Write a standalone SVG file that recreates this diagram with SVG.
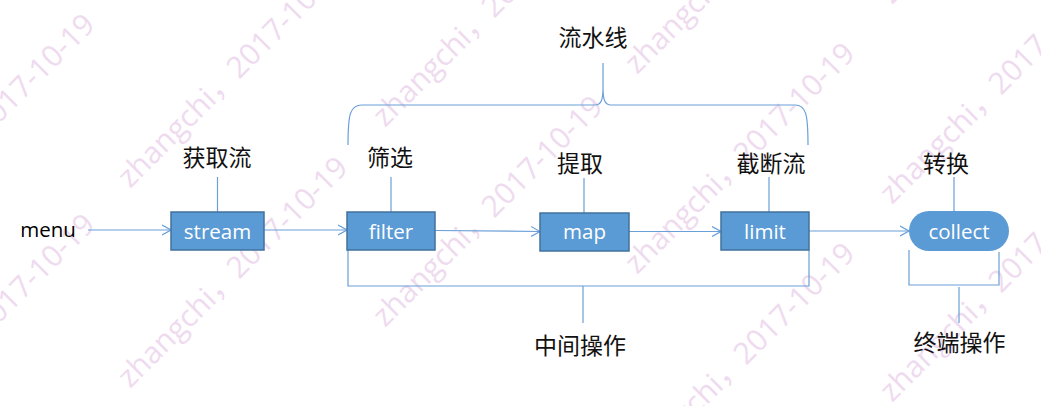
<svg xmlns="http://www.w3.org/2000/svg" width="1041" height="406" viewBox="0 0 1041 406">
<style>
.wm{font-family:"Open Sans","Liberation Sans","Noto Sans CJK SC",sans-serif;font-size:30px;fill:#efdbef}
.box{fill:#5b9bd5;stroke:#41719c;stroke-width:1.5}
.pill{fill:#5b9bd5}
.bt{font-family:"Open Sans","Liberation Sans",sans-serif;font-size:20.5px;fill:#ffffff;text-anchor:middle}
.lb{font-family:"Noto Sans CJK SC",sans-serif;font-size:23px;fill:#111111;text-anchor:middle}
.ln{fill:none;stroke:#6a9fd8;stroke-width:1.2}
</style>
<defs>
<marker id="arr" markerWidth="10" markerHeight="12" refX="9" refY="6" orient="auto" markerUnits="userSpaceOnUse">
<path d="M0,1 L9,6 L0,11" fill="none" stroke="#6a9fd8" stroke-width="1.2"/>
</marker>
</defs>
<rect width="1041" height="406" fill="#ffffff"/>
<g id="watermark">
<text class="wm" transform="translate(-123,46) rotate(-45)">zhangchi，2017-10-19</text>
<text class="wm" transform="translate(-123,246) rotate(-45)">zhangchi，2017-10-19</text>
<text class="wm" transform="translate(-123,446) rotate(-45)">zhangchi，2017-10-19</text>
<text class="wm" transform="translate(130,-13) rotate(-45)">zhangchi，2017-10-19</text>
<text class="wm" transform="translate(130,189) rotate(-45)">zhangchi，2017-10-19</text>
<text class="wm" transform="translate(130,389) rotate(-45)">zhangchi，2017-10-19</text>
<text class="wm" transform="translate(385,-72) rotate(-45)">zhangchi，2017-10-19</text>
<text class="wm" transform="translate(385,128) rotate(-45)">zhangchi，2017-10-19</text>
<text class="wm" transform="translate(385,328) rotate(-45)">zhangchi，2017-10-19</text>
<text class="wm" transform="translate(637,75) rotate(-45)">zhangchi，2017-10-19</text>
<text class="wm" transform="translate(637,275) rotate(-45)">zhangchi，2017-10-19</text>
<text class="wm" transform="translate(637,475) rotate(-45)">zhangchi，2017-10-19</text>
<text class="wm" transform="translate(892,5) rotate(-45)">zhangchi，2017-10-19</text>
<text class="wm" transform="translate(892,205) rotate(-45)">zhangchi，2017-10-19</text>
<text class="wm" transform="translate(892,403) rotate(-45)">zhangchi，2017-10-19</text>
</g>
<g id="connectors">
<line class="ln" x1="88" y1="230" x2="171" y2="230" marker-end="url(#arr)"/>
<line class="ln" x1="264" y1="230" x2="347" y2="230" marker-end="url(#arr)"/>
<line class="ln" x1="435" y1="230.5" x2="540" y2="231.5" marker-end="url(#arr)"/>
<line class="ln" x1="629" y1="231.5" x2="721" y2="231.5" marker-end="url(#arr)"/>
<line class="ln" x1="809" y1="231" x2="909" y2="231" marker-end="url(#arr)"/>
<line class="ln" x1="217.5" y1="177" x2="217.5" y2="212"/>
<line class="ln" x1="391" y1="177" x2="391" y2="212"/>
<line class="ln" x1="584" y1="178" x2="584" y2="213"/>
<line class="ln" x1="769" y1="177" x2="769" y2="212"/>
<line class="ln" x1="954" y1="177" x2="954" y2="211"/>
<path class="ln" d="M348,145 C348,114 350,105 362,105 L595,105 C601,105 603,100 603,88 L603,63 M603,88 C603,100 605,105 611,105 L795,105 C806,105 808,114 808,145"/>
<path class="ln" d="M348,250 L348,286 L809,286 L809,250 M583,286 L583,323"/>
<path class="ln" d="M909,250 L909,285 L999,285 L999,252 M959,287 L959,323"/>
</g>
<g id="menu"><text x="48" y="237" class="bt" style="fill:#000000">menu</text></g>
<g id="stream"><rect class="box" x="171" y="212" width="93" height="38"/><text class="bt" x="217.5" y="239">stream</text></g>
<g id="filter"><rect class="box" x="347" y="212" width="88" height="38"/><text class="bt" x="391" y="239">filter</text></g>
<g id="map"><rect class="box" x="540" y="213" width="89" height="38"/><text class="bt" x="584.5" y="239">map</text></g>
<g id="limit"><rect class="box" x="721" y="212" width="88" height="38"/><text class="bt" x="765" y="239">limit</text></g>
<g id="collect"><rect class="pill" x="909" y="211" width="100" height="40" rx="20" ry="20"/><text class="bt" x="959" y="239">collect</text></g>
<g id="labels">
<text class="lb" x="593" y="46">流水线</text>
<text class="lb" x="217" y="166">获取流</text>
<text class="lb" x="390" y="166">筛选</text>
<text class="lb" x="580" y="172">提取</text>
<text class="lb" x="771" y="172">截断流</text>
<text class="lb" x="946" y="172">转换</text>
<text class="lb" x="580" y="354">中间操作</text>
<text class="lb" x="959.5" y="351">终端操作</text>
</g>
</svg>
